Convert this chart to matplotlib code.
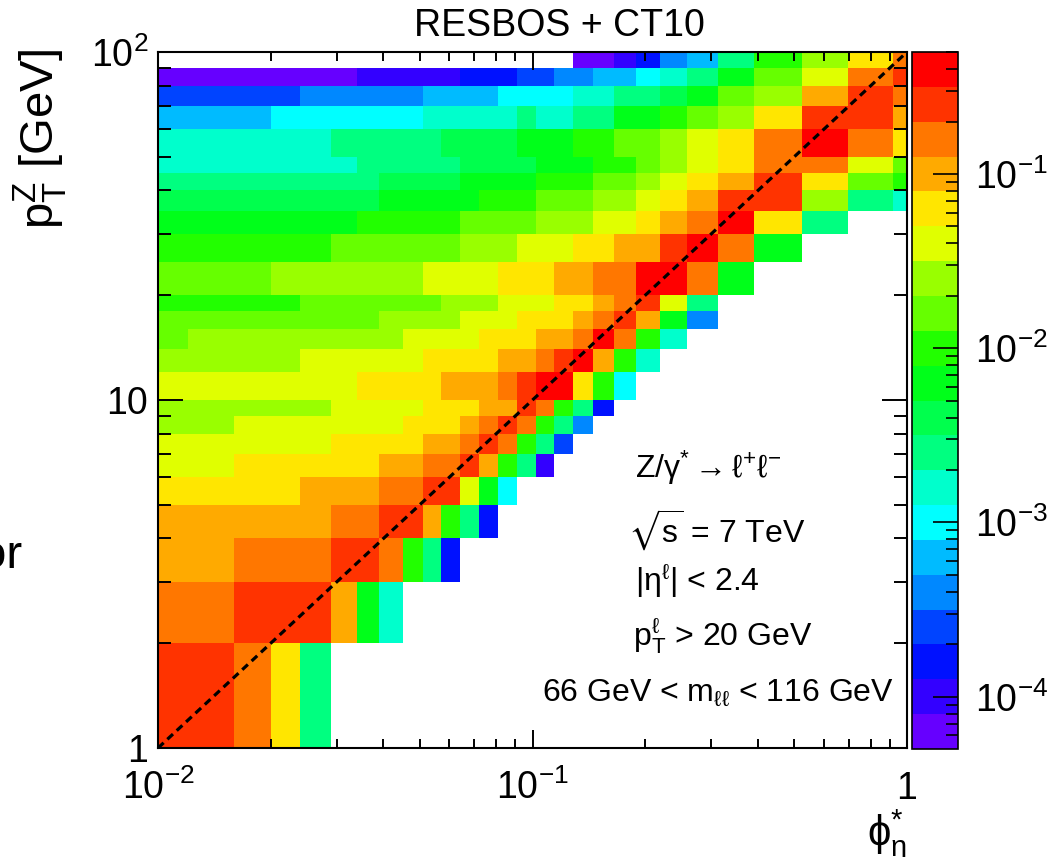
"""phi*_eta vs pT(Z) correlation map, RESBOS + CT10."""

import numpy as np
import matplotlib

matplotlib.use("Agg")
from matplotlib import pyplot as plt
from matplotlib.colors import ListedColormap, LogNorm
from matplotlib.ticker import LogLocator, NullFormatter

plt.rcParams["font.family"] = ["Liberation Sans", "DejaVu Sans"]
plt.rcParams["mathtext.fontset"] = "custom"
plt.rcParams["mathtext.rm"] = "Liberation Sans"
plt.rcParams["mathtext.it"] = "Liberation Sans:italic"
plt.rcParams["mathtext.bf"] = "Liberation Sans:bold"
plt.rcParams["mathtext.sf"] = "Liberation Sans"
plt.rcParams["mathtext.default"] = "rm"
plt.rcParams["mathtext.fallback"] = "stixsans"

# bin edges
phistar_edges = [0.01, 0.012, 0.016, 0.020, 0.024, 0.029, 0.034, 0.039, 0.045, 0.051,
                 0.057, 0.064, 0.072, 0.081, 0.091, 0.102, 0.114, 0.128, 0.145, 0.165,
                 0.189, 0.219, 0.258, 0.312, 0.391, 0.524, 0.695, 0.918, 1.0]
pt_edges = [1, 2, 3, 4, 5, 6, 7, 8, 9, 10, 12, 14, 16, 18, 20, 25, 30, 35, 40, 45,
            50, 60, 70, 80, 90, 100]

# cell contents, one list per pT bin (lowest first); missing tail = empty cells
density_rows = [
    [.25, .25, .16, .063, 2.5e-3],
    [.16, .16, .25, .25, .25, .1, 6.3e-3, 1.6e-3],
    [.1, .1, .16, .16, .16, .25, .25, .16, .01, 2.5e-3, 1.6e-4],
    [.1, .1, .1, .1, .1, .16, .16, .25, .25, .1, .01, 2.5e-3, 1.6e-4],
    [.063, .063, .063, .063, .1, .1, .1, .16, .16, .25, .25, .04, 6.3e-3, 1e-3],
    [.04, .04, .063, .063, .063, .063, .063, .1, .1, .16, .16, .25, .1, .01, 2.5e-3,
     1e-4],
    [.04, .04, .04, .04, .04, .063, .063, .063, .063, .1, .1, .16, .25, .16, .01,
     2.5e-3, 2.5e-4],
    [.025, .025, .04, .04, .04, .04, .04, .04, .063, .063, .063, .1, .16, .25, .16,
     .01, 2.5e-3, 4e-4],
    [.025, .025, .025, .025, .025, .04, .04, .04, .04, .063, .063, .063, .1, .1, .25,
     .16, .01, 2.5e-3, 1.6e-4],
    [.04, .04, .04, .04, .04, .04, .063, .063, .063, .063, .1, .1, .1, .16, .25, .4,
     .4, .063, .01, 1e-3],
    [.025, .025, .025, .025, .04, .04, .04, .04, .04, .063, .063, .063, .063, .1, .1,
     .16, .25, .4, .1, .01, 1.6e-3],
    [.016, .025, .025, .025, .025, .025, .025, .025, .04, .04, .04, .04, .063, .063,
     .063, .1, .1, .16, .4, .16, .01, 1.6e-3],
    [.016, .016, .016, .016, .016, .016, .016, .025, .025, .025, .025, .04, .04, .04,
     .063, .063, .063, .1, .16, .25, .1, 6.3e-3, 4e-4],
    [.01, .01, .01, .01, .016, .016, .016, .016, .016, .016, .025, .025, .025, .04,
     .04, .04, .063, .063, .1, .16, .25, .04, 2.5e-3],
    [.016, .016, .016, .025, .025, .025, .025, .025, .025, .04, .04, .04, .04, .063,
     .063, .063, .1, .1, .16, .16, .4, .4, .16, 6.3e-3],
    [.01, .01, .01, .01, .01, .016, .016, .016, .016, .016, .016, .025, .025, .025,
     .04, .04, .04, .063, .063, .1, .1, .25, .4, .16, 6.3e-3],
    [6.3e-3, 6.3e-3, 6.3e-3, 6.3e-3, 6.3e-3, 6.3e-3, .01, .01, .01, .01, .01, .016,
     .016, .016, .016, .025, .025, .025, .04, .04, .063, .1, .16, .4, .063, 2.5e-3],
    [4e-3, 4e-3, 4e-3, 4e-3, 4e-3, 4e-3, 4e-3, 6.3e-3, 6.3e-3, 6.3e-3, 6.3e-3, 6.3e-3,
     .01, .01, .01, .016, .016, .016, .025, .025, .04, .063, .1, .25, .25, .025,
     2.5e-3, 1.6e-3],
    [2.5e-3, 2.5e-3, 2.5e-3, 2.5e-3, 2.5e-3, 2.5e-3, 2.5e-3, 4e-3, 4e-3, 4e-3, 4e-3,
     6.3e-3, 6.3e-3, 6.3e-3, 6.3e-3, .01, .01, .01, .016, .016, .025, .04, .063, .1,
     .25, .063, .016, .01],
    [1.6e-3, 1.6e-3, 1.6e-3, 1.6e-3, 1.6e-3, 1.6e-3, 2.5e-3, 2.5e-3, 2.5e-3, 2.5e-3,
     2.5e-3, 4e-3, 4e-3, 4e-3, 4e-3, 6.3e-3, 6.3e-3, 6.3e-3, .01, .01, .016, .025,
     .04, .063, .16, .16, .04, .016],
    [1.6e-3, 1.6e-3, 1.6e-3, 1.6e-3, 1.6e-3, 2.5e-3, 2.5e-3, 2.5e-3, 2.5e-3, 2.5e-3,
     4e-3, 4e-3, 4e-3, 4e-3, 6.3e-3, 6.3e-3, 6.3e-3, .01, .01, .016, .016, .025, .04,
     .063, .16, .4, .16, .063],
    [6.3e-4, 6.3e-4, 6.3e-4, 1e-3, 1e-3, 1e-3, 1e-3, 1e-3, 1e-3, 1.6e-3, 1.6e-3,
     1.6e-3, 1.6e-3, 1.6e-3, 2.5e-3, 1.6e-3, 1.6e-3, 2.5e-3, 2.5e-3, 6.3e-3, 6.3e-3,
     .01, .016, .025, .063, .25, .25, .1],
    [2.5e-4, 2.5e-4, 2.5e-4, 2.5e-4, 4e-4, 4e-4, 4e-4, 4e-4, 4e-4, 6.3e-4, 6.3e-4,
     6.3e-4, 6.3e-4, 1e-3, 1e-3, 1e-3, 1e-3, 1.6e-3, 1.6e-3, 2.5e-3, 2.5e-3, 4e-3,
     6.3e-3, .016, .025, .1, .25, .16],
    [6.3e-5, 6.3e-5, 6.3e-5, 6.3e-5, 6.3e-5, 6.3e-5, 1e-4, 1e-4, 1e-4, 1e-4, 1e-4,
     1.6e-4, 1.6e-4, 1.6e-4, 2.5e-4, 2.5e-4, 4e-4, 4e-4, 6.3e-4, 6.3e-4, 1e-3, 1.6e-3,
     2.5e-3, 6.3e-3, .016, .04, .16, .25],
    [None, None, None, None, None, None, None, None, None, None, None, None, None,
     None, None, None, None, 6.3e-5, 6.3e-5, 1e-4, 1.6e-4, 4e-4, 6.3e-4, 2.5e-3, .01,
     .025, .063, .16],
]

palette = ["#6600ff", "#3300ff", "#0011ff", "#0044ff", "#0088ff", "#00bbff",
           "#00ffff", "#00ffcc", "#00ff80", "#00ff4d", "#00ff1a", "#22ff00",
           "#66ff00", "#99ff00", "#e0ff00", "#ffe600", "#ffaa00", "#ff7700",
           "#ff3300", "#ff0000"]
z_min, z_max = 10 ** -4.3, 10 ** -0.3

diag_phistar = [0.01, 1.0]
diag_pt = [1.0, 100.0]

n_cols = len(phistar_edges) - 1
grid = np.full((len(density_rows), n_cols), np.nan)
for i, row in enumerate(density_rows):
    for j, value in enumerate(row):
        if value is not None:
            grid[i, j] = value
grid = np.ma.masked_invalid(grid)

W, H = 1051, 857
fig = plt.figure(figsize=(W / 100, H / 100), dpi=100)
ax = fig.add_axes([158 / W, (H - 748) / H, 749 / W, 696 / H])
cax = fig.add_axes([912 / W, (H - 749) / H, 46 / W, 697 / H])

cmap = ListedColormap(palette)
norm = LogNorm(vmin=z_min, vmax=z_max)
mesh = ax.pcolormesh(phistar_edges, pt_edges, grid, cmap=cmap, norm=norm,
                     edgecolors="none", antialiased=False)
ax.plot(diag_phistar, diag_pt, color="black", linewidth=2.3,
        linestyle=(0, (2.4, 1.6)))

ax.set_xscale("log")
ax.set_yscale("log")
ax.set_xlim(0.01, 1)
ax.set_ylim(1, 100)

ax.set_xticks([0.01, 0.1, 1])
ax.set_xticklabels([r"$10^{-2}$", r"$10^{-1}$", "1"])
ax.set_yticks([1, 10, 100])
ax.set_yticklabels(["1", "10", r"$10^{2}$"])
for axis in (ax.xaxis, ax.yaxis):
    axis.set_minor_locator(LogLocator(base=10, subs=np.arange(2, 10)))
    axis.set_minor_formatter(NullFormatter())

ax.tick_params(which="both", direction="in", top=True, right=True, width=1.4,
               labelsize=27)
ax.tick_params(axis="x", which="major", length=13, pad=37)
ax.tick_params(axis="x", which="minor", length=6.5)
ax.tick_params(axis="y", which="major", length=18, pad=7)
ax.tick_params(axis="y", which="minor", length=9.4)
for label in ax.get_xticklabels():
    label.set_verticalalignment("baseline")
for spine in ax.spines.values():
    spine.set_linewidth(1.5)

cb = fig.colorbar(mesh, cax=cax)
cb.outline.set_linewidth(1.2)
cb.set_ticks([1e-4, 1e-3, 1e-2, 1e-1])
cb.set_ticklabels([r"$10^{-4}$", r"$10^{-3}$", r"$10^{-2}$", r"$10^{-1}$"])
cax.yaxis.set_minor_locator(LogLocator(base=10, subs=np.arange(2, 10)))
cax.yaxis.set_minor_formatter(NullFormatter())
cax.tick_params(which="both", direction="in", right=True, left=False, width=1.2,
                labelsize=27, pad=12)
cax.tick_params(which="major", length=18)
cax.tick_params(which="minor", length=9)

fig.text(559 / W, 1 - 26 / H, "RESBOS + CT10", ha="center", va="center",
         fontsize=27)
fig.text(40 / W, 1 - 48 / H, r"$p_{T}^{Z}$ [GeV]", rotation=90, ha="center",
         va="top", fontsize=34)
fig.text(907 / W, 1 - 836 / H, r"$\phi^{*}_{\eta}$", ha="right", va="center",
         fontsize=30)
fig.text(22 / W, 1 - 568 / H, "or", ha="right", va="baseline", fontsize=34)

notes = [
    (635, 468, r"Z/$\gamma^{*}\rightarrow\ell^{+}\ell^{-}$"),
    (628, 530, r"$\sqrt{s}$ = 7 TeV"),
    (635, 580, r"|$\eta^{\ell}$| < 2.4"),
    (633, 636, r"$p_{T}^{\ell}$ > 20 GeV"),
    (542, 693, r"66 GeV < $m_{\ell\ell}$ < 116 GeV"),
]
for x_px, y_px, text in notes:
    fig.text(x_px / W, 1 - y_px / H, text, ha="left", va="center", fontsize=23)

fig.savefig("out.png", dpi=100)
